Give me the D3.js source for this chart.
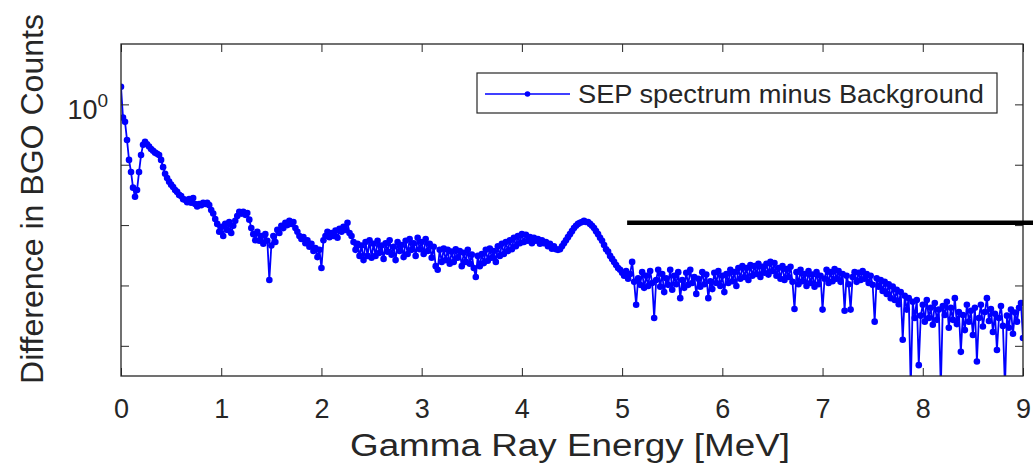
<!DOCTYPE html>
<html><head><meta charset="utf-8">
<script src="https://cdn.jsdelivr.net/npm/d3@7"></script>
<style>body{margin:0;background:#fff}svg{display:block}</style>
</head><body>
<svg id="chart" width="1033" height="465"></svg>
<script>
// ---------- data ----------
const binStartMeV = 0;
const binWidthMeV = 0.02;
// log10 of the difference in BGO counts, one value per 0.02 MeV bin (0 .. 9 MeV)
const diffLog10 = [
 0.29,-0.22,-0.29,-0.59,-0.92,-1.12,-1.38,-1.53,-1.42,-1.12,
 -0.84,-0.67,-0.62,-0.66,-0.70,-0.74,-0.77,-0.80,-0.82,-0.84,
 -0.92,-1.04,-1.15,-1.22,-1.28,-1.33,-1.37,-1.42,-1.45,-1.50,
 -1.52,-1.57,-1.58,-1.62,-1.57,-1.63,-1.55,-1.65,-1.69,-1.65,
 -1.67,-1.63,-1.65,-1.63,-1.67,-1.75,-1.81,-1.90,-1.98,-2.11,
 -2.03,-2.18,-1.98,-2.08,-1.95,-2.13,-2.01,-1.93,-1.85,-1.78,
 -1.81,-1.78,-1.83,-1.80,-1.91,-2.05,-2.15,-2.25,-2.11,-2.26,
 -2.18,-2.31,-2.15,-2.26,-2.91,-2.34,-2.18,-2.28,-2.08,-2.13,
 -2.01,-2.05,-1.96,-2.00,-1.93,-1.98,-1.95,-2.05,-2.11,-2.18,
 -2.23,-2.20,-2.30,-2.25,-2.36,-2.31,-2.43,-2.38,-2.53,-2.41,
 -2.71,-2.25,-2.18,-2.11,-2.20,-2.13,-2.18,-2.09,-2.21,-2.06,
 -2.11,-2.03,-2.08,-1.96,-2.13,-2.18,-2.28,-2.41,-2.31,-2.51,
 -2.34,-2.58,-2.28,-2.51,-2.25,-2.54,-2.31,-2.51,-2.26,-2.46,
 -2.34,-2.56,-2.30,-2.44,-2.25,-2.49,-2.36,-2.58,-2.28,-2.43,
 -2.33,-2.53,-2.26,-2.48,-2.23,-2.41,-2.30,-2.51,-2.21,-2.40,
 -2.28,-2.48,-2.23,-2.43,-2.31,-2.54,-2.36,-2.68,-2.74,-2.41,
 -2.61,-2.39,-2.58,-2.41,-2.64,-2.44,-2.61,-2.40,-2.54,-2.43,
 -2.68,-2.46,-2.61,-2.41,-2.64,-2.49,-2.71,-2.86,-2.51,-2.68,
 -2.48,-2.63,-2.41,-2.59,-2.39,-2.54,-2.43,-2.61,-2.35,-2.51,
 -2.31,-2.48,-2.28,-2.43,-2.25,-2.40,-2.21,-2.35,-2.18,-2.30,
 -2.15,-2.28,-2.16,-2.26,-2.20,-2.30,-2.21,-2.26,-2.23,-2.31,
 -2.25,-2.30,-2.28,-2.35,-2.31,-2.39,-2.35,-2.40,-2.41,-2.40,
 -2.35,-2.30,-2.25,-2.20,-2.15,-2.10,-2.05,-2.01,-1.98,-1.96,
 -1.95,-1.93,-1.95,-1.95,-1.98,-2.01,-2.05,-2.10,-2.15,-2.21,
 -2.26,-2.33,-2.40,-2.44,-2.51,-2.56,-2.61,-2.66,-2.71,-2.74,
 -2.79,-2.84,-2.76,-2.89,-2.81,-2.61,-2.94,-3.32,-2.88,-2.99,
 -2.78,-3.04,-2.84,-3.01,-2.76,-2.96,-3.54,-2.91,-2.74,-3.02,
 -2.81,-3.11,-2.88,-2.99,-2.74,-3.07,-2.84,-2.98,-2.78,-3.21,
 -2.91,-3.04,-2.79,-2.99,-2.74,-2.96,-2.86,-3.14,-2.89,-3.02,
 -2.78,-2.98,-2.82,-3.21,-2.93,-3.06,-2.79,-2.96,-2.76,-3.01,
 -2.84,-3.11,-2.81,-2.96,-2.74,-2.93,-2.78,-3.01,-2.71,-2.89,
 -2.68,-2.86,-2.71,-2.91,-2.66,-2.84,-2.68,-2.81,-2.64,-2.86,
 -2.69,-2.79,-2.64,-2.82,-2.61,-2.76,-2.63,-2.84,-2.71,-2.89,
 -2.68,-2.91,-2.73,-2.86,-2.69,-2.94,-3.39,-2.78,-2.98,-2.74,
 -2.93,-2.81,-3.01,-2.76,-2.96,-2.82,-3.02,-2.78,-2.98,-2.84,
 -3.40,-2.89,-2.74,-2.96,-2.78,-2.93,-2.73,-2.89,-2.76,-2.94,
 -2.81,-3.42,-2.84,-2.98,-3.40,-2.86,-2.78,-2.94,-2.79,-2.91,
 -2.76,-2.89,-2.81,-2.96,-2.84,-2.99,-3.60,-2.88,-3.02,-2.91,
 -3.09,-2.94,-3.14,-2.98,-3.21,-3.02,-3.24,-3.07,-3.31,-3.11,
 -3.90,-3.17,-3.40,-3.21,-4.70,-3.27,-3.54,-3.24,-4.32,-3.50,
 -3.32,-3.60,-3.24,-3.54,-3.37,-3.65,-3.29,-3.57,-3.40,-4.70,
 -3.34,-3.49,-3.27,-3.70,-3.37,-3.57,-3.21,-3.64,-3.44,-4.10,
 -3.49,-3.74,-3.32,-3.60,-3.42,-3.82,-3.37,-4.26,-3.54,-3.32,
 -3.68,-3.44,-3.21,-3.59,-3.39,-3.77,-3.47,-4.07,-3.54,-3.34,
 -3.67,-4.70,-3.50,-3.70,-3.40,-3.80,-3.45,-3.60,-3.37,-3.29,
 -3.87
];
const xTickValues = [0,1,2,3,4,5,6,7,8,9];
const yTickValues = [1, 1e-1, 1e-2, 1e-3, 1e-4];
const yTickLabels = [{v: 1, base: "10", exp: "0"}];
const seriesName = "SEP spectrum minus Background";
const xLabel = "Gamma Ray Energy [MeV]";
const yLabel = "Difference in BGO Counts";
const annotationStartMeV = 5.05;
const annotationValue = 10 ** -1.96;

// ---------- drawing ----------
const svg = d3.select("#chart");
const W = 1033, H = 465;
const L = 121, R = 1023, T = 44, B = 376;
const font = "'Liberation Sans', Arial, Helvetica, sans-serif";
const ink = "#262626";

const x = d3.scaleLinear().domain([0, 9]).range([L, R]);
const y = d3.scaleLog().domain([10 ** -4.5, 10]).range([B, T]);

const points = diffLog10.map((v, i) => ({e: binStartMeV + i * binWidthMeV, c: 10 ** v}));

const defs = svg.append("defs");
defs.append("clipPath").attr("id", "plotclip")
  .append("rect").attr("x", L).attr("y", T).attr("width", R - L).attr("height", B - T);
defs.append("filter").attr("id", "blur").attr("x", "-5%").attr("y", "-200%").attr("width", "110%").attr("height", "500%")
  .append("feGaussianBlur").attr("stdDeviation", 1.6);

// series
const plot = svg.append("g").attr("clip-path", "url(#plotclip)");
plot.append("path").datum(points)
  .attr("fill", "none").attr("stroke", "#0000ff").attr("stroke-width", 1.8)
  .attr("d", d3.line().x(d => x(d.e)).y(d => y(d.c)));
plot.append("g").selectAll("circle").data(points).join("circle")
  .attr("cx", d => x(d.e)).attr("cy", d => y(d.c)).attr("r", 3.3).attr("fill", "#0000ff");

// axes (ticks inward, MATLAB style)
function styleAxis(g) {
  g.select(".domain").remove();
  g.selectAll(".tick line").attr("stroke", ink).attr("stroke-width", 1);
  g.selectAll(".tick text").attr("fill", ink).style("font-family", font).style("font-size", "27px");
}
svg.append("g").attr("transform", `translate(0,${B})`)
  .call(d3.axisBottom(x).tickValues(xTickValues).tickSizeInner(-8).tickSizeOuter(0).tickPadding(23).tickFormat(d3.format("d")))
  .call(styleAxis);
svg.append("g").attr("transform", `translate(0,${T})`)
  .call(d3.axisTop(x).tickValues(xTickValues).tickSizeInner(-8).tickSizeOuter(0).tickFormat(""))
  .call(styleAxis);
svg.append("g").attr("transform", `translate(${L},0)`)
  .call(d3.axisLeft(y).tickValues(yTickValues).tickSizeInner(-8).tickSizeOuter(0).tickFormat(""))
  .call(styleAxis);
svg.append("g").attr("transform", `translate(${R},0)`)
  .call(d3.axisRight(y).tickValues(yTickValues).tickSizeInner(-8).tickSizeOuter(0).tickFormat(""))
  .call(styleAxis);

// 10^0 style labels
yTickLabels.forEach(t => {
  const tx = svg.append("text").attr("x", L - 13).attr("y", y(t.v) + 15)
    .attr("text-anchor", "end").attr("fill", ink).style("font-family", font);
  tx.append("tspan").style("font-size", "27px").text(t.base);
  tx.append("tspan").style("font-size", "19px").attr("dy", -12).text(t.exp);
});

// box
svg.append("rect").attr("x", L).attr("y", T).attr("width", R - L).attr("height", B - T)
  .attr("fill", "none").attr("stroke", ink).attr("stroke-width", 1.3);

// axis labels
svg.append("text").attr("x", 570).attr("y", 456).attr("text-anchor", "middle")
  .attr("fill", ink).style("font-family", font).style("font-size", "31px")
  .attr("textLength", 440).attr("lengthAdjust", "spacingAndGlyphs").text(xLabel);
svg.append("text").attr("transform", "translate(43,199) rotate(-90)").attr("text-anchor", "middle")
  .attr("fill", ink).style("font-family", font).style("font-size", "31px")
  .attr("textLength", 370).attr("lengthAdjust", "spacingAndGlyphs").text(yLabel);

// legend
const lg = svg.append("g");
lg.append("rect").attr("x", 477).attr("y", 73).attr("width", 520).attr("height", 40)
  .attr("fill", "#fff").attr("stroke", ink).attr("stroke-width", 1.2);
lg.append("line").attr("x1", 485).attr("x2", 570).attr("y1", 94).attr("y2", 94)
  .attr("stroke", "#0000ff").attr("stroke-width", 1.5);
lg.append("circle").attr("cx", 527.5).attr("cy", 94).attr("r", 2.8).attr("fill", "#0000ff");
lg.append("text").attr("x", 578).attr("y", 103).attr("fill", ink)
  .style("font-family", font).style("font-size", "26px")
  .attr("textLength", 406).attr("lengthAdjust", "spacingAndGlyphs").text(seriesName);

// black annotation bar with soft shadow
const ay = y(annotationValue);
svg.append("line").attr("x1", x(annotationStartMeV)).attr("x2", W).attr("y1", ay + 4).attr("y2", ay + 4)
  .attr("stroke", "#000").attr("stroke-opacity", 0.35).attr("stroke-width", 4).attr("filter", "url(#blur)");
svg.append("line").attr("x1", x(annotationStartMeV)).attr("x2", W).attr("y1", ay).attr("y2", ay)
  .attr("stroke", "#000").attr("stroke-width", 4.5);
</script>
</body></html>
